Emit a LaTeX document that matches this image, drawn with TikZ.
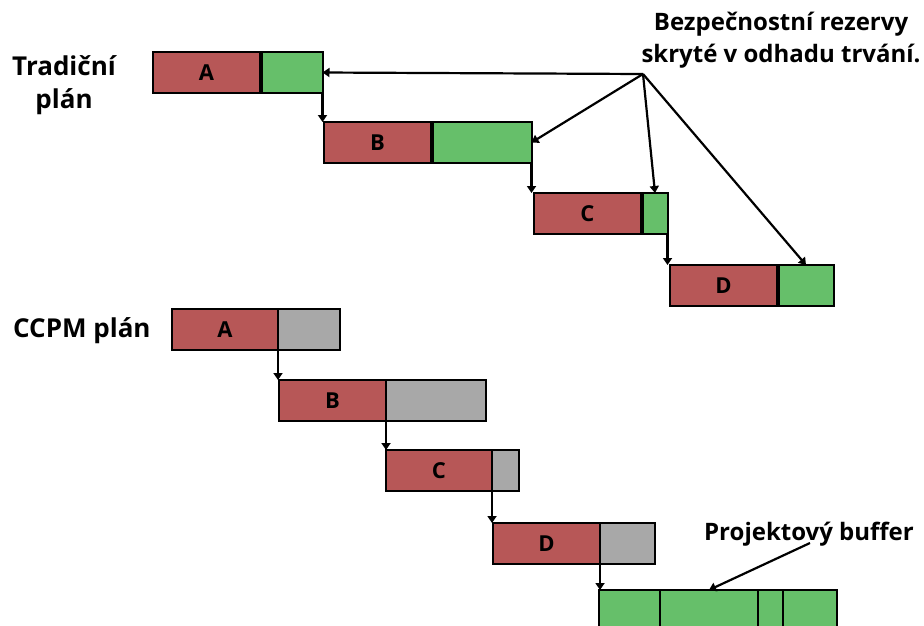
\documentclass[tikz,border=0pt]{standalone}
\usepackage{fontspec}
\setmainfont{Open Sans}
\usetikzlibrary{arrows.meta}
\definecolor{redc}{RGB}{183,87,87}
\definecolor{greenc}{RGB}{102,191,106}
\definecolor{grayc}{RGB}{168,168,168}
\begin{document}
\begin{tikzpicture}[x=1pt,y=-1pt,
  bar/.style={draw=black, line width=2pt, anchor=north west, inner sep=0pt, outer sep=0pt,
    minimum height=41pt, font=\bfseries\fontsize{22}{24}\selectfont},
  taskbar/.style={bar, fill=redc},
  resbar/.style={bar, fill=greenc},
  graybar/.style={bar, fill=grayc},
  conn/.style={draw=black, line width=2.2pt, -{Triangle[length=7pt,width=9pt]}},
  title/.style={font=\bfseries\fontsize{24}{32}\selectfont, align=center, inner sep=0pt},
  sidetitle/.style={font=\bfseries\fontsize{26}{33}\selectfont, align=center, inner sep=0pt}
]
\clip (0,0) rectangle (924,625);
\fill[white] (0,0) rectangle (924,625);

% Traditional plan
\node[taskbar, minimum width=107pt] (ta) at (153,52) {A};
\node[resbar,  minimum width=61pt]  (tag) at (261.5,52) {};
\node[taskbar, minimum width=107pt] (tb) at (324,122) {B};
\node[resbar,  minimum width=99pt]  (tbg) at (432.5,122) {};
\node[taskbar, minimum width=107pt] (tc) at (534,193) {C};
\node[resbar,  minimum width=25pt]  (tcg) at (642.5,193) {};
\node[taskbar, minimum width=107pt] (td) at (670,265) {D};
\node[resbar,  minimum width=55pt]  (tdg) at (778.5,265) {};

\draw[conn] (tag.south east) -- (tag.south east |- tb.north);
\draw[conn] (tbg.south east) -- (tbg.south east |- tc.north);
\draw[conn] (tcg.south east) -- (tcg.south east |- td.north);

% Label and arrows
\node[title] (lbl) at (781,40) {Bezpečnostní rezervy\\skryté v odhadu trvání.};
\coordinate (src) at (643,74);
\draw[conn] (src) -- (tag.east);
\draw[conn] (src) -- (tbg.east);
\draw[conn] (src) -- (tcg.north);
\draw[conn] (src) -- (tdg.north);

\node[sidetitle] (trad) at (64,85) {Tradiční\\plán};
\node[sidetitle, anchor=base west] (ccpm) at (13,337) {CCPM plán};

% CCPM plan
\node[taskbar, minimum width=106pt] (ca) at (172,309) {A};
\node[graybar, minimum width=62pt]  (cag) at (278,309) {};
\node[taskbar, minimum width=107pt] (cb) at (279,380) {B};
\node[graybar, minimum width=100pt] (cbg) at (386,380) {};
\node[taskbar, minimum width=106pt] (cc) at (386,450) {C};
\node[graybar, minimum width=27pt]  (ccg) at (492,450) {};
\node[taskbar, minimum width=107pt] (cd) at (493,523) {D};
\node[graybar, minimum width=55pt]  (cdg) at (600,523) {};

\draw[conn] (ca.south east) -- (ca.south east |- cb.north);
\draw[conn] (cb.south east) -- (cb.south east |- cc.north);
\draw[conn] (cc.south east) -- (cc.south east |- cd.north);

% Project buffer
\node[resbar, minimum width=61pt] (b1) at (599,590) {};
\node[resbar, minimum width=98pt] (b2) at (660,590) {};
\node[resbar, minimum width=25pt] (b3) at (758,590) {};
\node[resbar, minimum width=54pt] (b4) at (783,590) {};
\draw[conn] (cd.south east) -- (cd.south east |- b1.north);

\node[title, anchor=base] (buf) at (809,540) {Projektový buffer};
\coordinate (bufsrc) at (810,543);
\draw[conn] (bufsrc) -- (b2.north);
\end{tikzpicture}
\end{document}
